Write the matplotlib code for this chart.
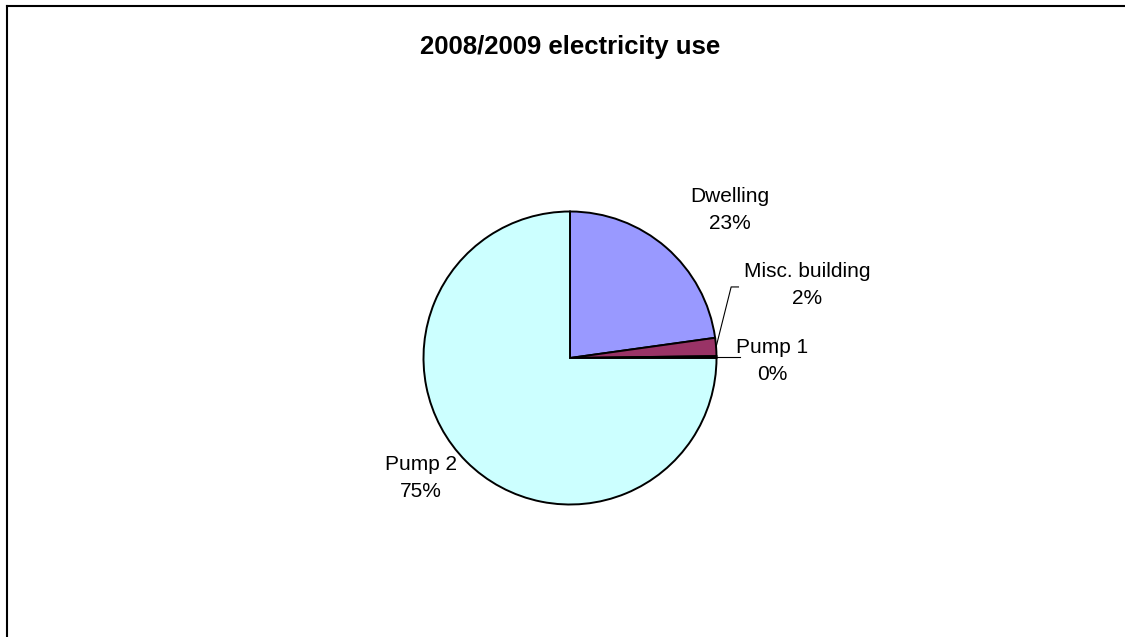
import matplotlib.pyplot as plt
import numpy as np

plt.rcParams['font.family'] = ['Liberation Sans', 'DejaVu Sans']

labels = ['Dwelling', 'Misc. building', 'Pump 1', 'Pump 2']
values = [22.8, 2.0, 0.2, 75.0]
colors = ['#9999FF', '#993366', '#FFFFCC', '#CCFFFF']
# label text centres, in pie-radius units
label_xy = [(1.09, 1.01), (1.62, 0.50), (1.38, -0.02), (-1.02, -0.82)]

W, H = 1125, 637
cx, cy, r = 570, 358, 146.5

fig = plt.figure(figsize=(W / 100, H / 100), dpi=100)
ax = fig.add_axes([0, 0, 1, 1])

wedges, _ = ax.pie(values, colors=colors, startangle=90, counterclock=False,
                   wedgeprops=dict(edgecolor='black', linewidth=1.4))
ax.set_aspect('auto')
ax.set_xlim(-cx / r, (W - cx) / r)
ax.set_ylim(-(H - cy) / r, cy / r)
ax.axis('off')

total = sum(values)
for lab, v, (tx, ty) in zip(labels, values, label_xy):
    ax.text(tx, ty, f'{lab}\n{v / total * 100:.0f}%', ha='center', va='center',
            fontsize=15, linespacing=1.55)

# leader lines for the thin slices
for w, (tx, ty) in zip(wedges[1:3], label_xy[1:3]):
    mid = np.deg2rad((w.theta1 + w.theta2) / 2)
    ex, ey = np.cos(mid), np.sin(mid)
    if ty > 0.2:
        ax.plot([ex, 1.10, 1.15], [ey, 0.485, 0.485], color='black', lw=0.8)
    else:
        ax.plot([ex, 1.16], [ey, ey], color='black', lw=0.8)

fig.text(cx / W, 1 - 47 / H, '2008/2009 electricity use', ha='center', va='center',
         fontsize=18.5, fontweight='bold')

# chart frame (left and top edges visible)
fig.add_artist(plt.Line2D([6.5 / W, 6.5 / W], [0, 1 - 5.5 / H], color='black', lw=1.5,
                          transform=fig.transFigure))
fig.add_artist(plt.Line2D([6.5 / W, 1], [1 - 5.5 / H, 1 - 5.5 / H], color='black', lw=1.5,
                          transform=fig.transFigure))

fig.savefig('out.png', dpi=100)
